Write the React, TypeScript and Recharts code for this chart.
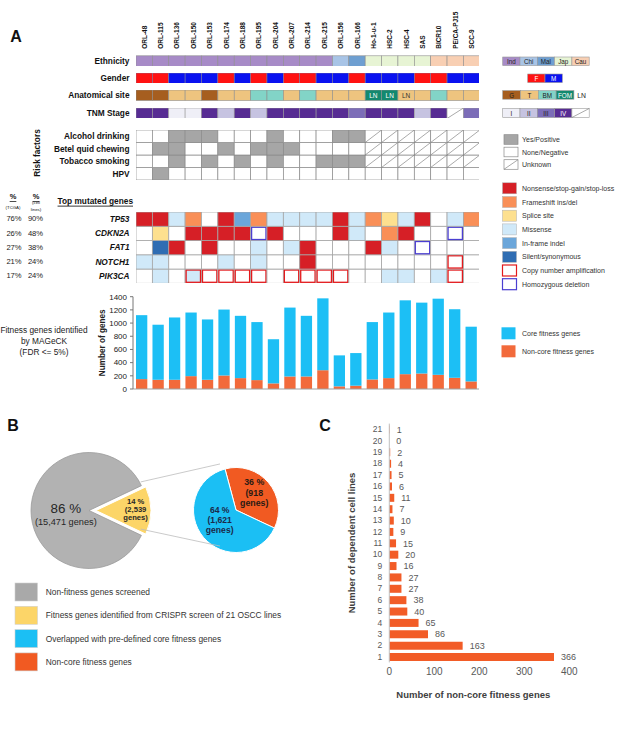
import React from 'react';
import { BarChart, Bar, XAxis, YAxis, PieChart, Pie, Cell, LabelList } from 'recharts';

const FONT = 'Arial, "Liberation Sans", Helvetica, sans-serif';

// ---- panel A data ----
const cellLines = ['ORL-48', 'ORL-115', 'ORL-136', 'ORL-150', 'ORL-153', 'ORL-174', 'ORL-188', 'ORL-195', 'ORL-204', 'ORL-207', 'ORL-214', 'ORL-215', 'ORL-156', 'ORL-166', 'Ho-1-u-1', 'HSC-2', 'HSC-4', 'SAS', 'BICR10', 'PE/CA-PJ15', 'SCC-9'];

const ethnicity = ['Ind', 'Ind', 'Ind', 'Ind', 'Ind', 'Ind', 'Ind', 'Ind', 'Ind', 'Ind', 'Ind', 'Ind', 'Chi', 'Mal', 'Jap', 'Jap', 'Jap', 'Jap', 'Cau', 'Cau', 'Cau'];
const gender = ['F', 'F', 'M', 'M', 'M', 'F', 'M', 'F', 'M', 'F', 'F', 'M', 'M', 'F', 'M', 'M', 'M', 'F', 'F', 'M', 'M'];
const site = ['G', 'G', 'T', 'T', 'G', 'T', 'T', 'BM', 'BM', 'T', 'BM', 'T', 'T', 'T', 'FOM/LN', 'FOM/LN', 'T/LN', 'T', 'BM', 'T', 'T'];
const tnmStage = ['IV', 'IV', 'I', 'I', 'IV', 'II', 'IV', 'II', 'IV', 'IV', 'IV', 'IV', 'IV', 'III', 'IV', 'IV', 'IV', 'II', 'IV', 'NA', 'III'];

const alcohol = ['N', 'N', 'Y', 'Y', 'Y', 'N', 'N', 'N', 'Y', 'N', 'N', 'N', 'Y', 'Y', 'U', 'U', 'U', 'U', 'U', 'U', 'U'];
const betel = ['N', 'Y', 'Y', 'N', 'N', 'Y', 'N', 'Y', 'Y', 'Y', 'N', 'N', 'N', 'N', 'U', 'U', 'U', 'U', 'U', 'U', 'U'];
const tobacco = ['N', 'N', 'Y', 'N', 'Y', 'N', 'Y', 'N', 'Y', 'N', 'N', 'Y', 'Y', 'Y', 'U', 'U', 'U', 'U', 'U', 'U', 'U'];
const hpv = ['N', 'Y', 'N', 'N', 'N', 'N', 'N', 'N', 'N', 'N', 'N', 'N', 'N', 'N', 'N', 'N', 'N', 'N', 'N', 'N', 'N'];

// N nonsense, F frameshift, S splice, M missense, I in-frame, X silent, A amplification, D deletion
const tp53 = ['N', 'N', 'M', 'F', '-', 'N', 'I', 'F', 'M', 'M', 'M', 'M', 'N', 'M', 'F', 'S', 'M', 'N', '-', 'M', 'F'];
const cdkn2a = ['-', 'S', '-', 'N', 'N', 'N', 'N', 'D', 'N', '-', '-', '-', 'N', 'M', '-', 'F', 'N', '-', '-', 'D', '-'];
const fat1 = ['-', 'X', 'N', '-', 'N', '-', '-', 'M', '-', 'M', 'N', '-', '-', '-', 'N', 'M', '-', 'D', '-', '-', '-'];
const notch1 = ['M', 'M', '-', '-', '-', 'M', '-', 'M', '-', '-', 'N', '-', '-', '-', '-', '-', '-', '-', '-', 'A', '-'];
const pik3ca = ['-', 'M', '-', 'M+A', 'A', 'A', 'A', 'A', '-', 'A', 'A', 'A', 'A', '-', '-', 'M', 'M', '-', 'M', 'A', '-'];

const geneNames = ['TP53', 'CDKN2A', 'FAT1', 'NOTCH1', 'PIK3CA'];
const tcgaPct = [76, 26, 27, 21, 17];
const cellLinePct = [90, 48, 38, 24, 24];

const coreFitness = [970, 835, 945, 965, 915, 1000, 945, 880, 670, 1045, 920, 1090, 470, 495, 870, 995, 1120, 1075, 1155, 1040, 830];
const nonCoreFitness = [150, 140, 140, 195, 140, 205, 165, 135, 85, 190, 190, 285, 40, 50, 145, 165, 225, 235, 215, 170, 115];
const geneTicks = [0, 200, 400, 600, 800, 1000, 1200, 1400];

// ---- panel B data ----
const screenGenes = [
  { name: 'Non-fitness genes screened', value: 15471 },
  { name: 'Fitness genes', value: 2539 },
];
const fitnessSplit = [
  { name: 'Non-core fitness genes', value: 918 },
  { name: 'Core fitness genes', value: 1621 },
];

// ---- panel C data ----
const dependentLines = ['1', '2', '3', '4', '5', '6', '7', '8', '9', '10', '11', '12', '13', '14', '15', '16', '17', '18', '19', '20', '21'];
const nonCoreCounts = [366, 163, 86, 65, 40, 38, 27, 27, 16, 20, 15, 9, 10, 7, 11, 6, 5, 4, 2, 0, 1];
const countTicks = [0, 100, 200, 300, 400];

// ---- colours ----
const ETH_COLORS: Record<string, string> = { Ind: '#A78BC7', Chi: '#A8C4E6', Mal: '#6E9FD1', Jap: '#E7F4D4', Cau: '#F8CFB3' };
const GENDER_COLORS: Record<string, string> = { F: '#FF1212', M: '#0A12F0' };
const SITE_COLORS: Record<string, string> = { G: '#A65E1F', T: '#EEC47F', BM: '#82D4C7', FOM: '#13896F' };
const TNM_COLORS: Record<string, string> = { I: '#EFEFF7', II: '#C6C3E1', III: '#7C6DB8', IV: '#572C93', NA: '#FFFFFF' };
const RISK_COLORS: Record<string, string> = { Y: '#A6A6A6', N: '#FFFFFF', U: '#FFFFFF' };
const MUT_COLORS: Record<string, string> = { N: '#D61F26', F: '#F98F57', S: '#FDE08F', M: '#D0E9F9', I: '#6BA6DA', X: '#2F6DB3' };
const AMP = '#E3191C';
const DEL = '#4B3FD1';
const BLUE = '#1CBFF5';
const ORANGE = '#F26A3B';

// ---- layout ----
const GRID_LEFT = 135.7;
const GRID_W = 343.8;
const COL_W = GRID_W / cellLines.length;
const ROW_H = 10.5;
const HEADER_H = 55.8;
const ETH_TOP = 55.8;
const GENDER_TOP = 72.5;
const SITE_TOP = 90;
const TNM_TOP = 107.5;
const RISK_TOP = 130;
const RISK_H = 50;
const MUT_TOP = 211.7;
const MUT_H = 71.3;
const PIE_TOP = 430;
const BIG_CX = 84;
const BIG_CY = 75.5;
const BIG_R = 58;
const EXPLODE = 7;
const SLICE_R = 55;
const SMALL_CX = 231;
const SMALL_CY = 75;
const SMALL_R = 42.5;
const SMALL_START = 105;

const polar = (cx: number, cy: number, r: number, a: number) => [cx + r * Math.cos((a * Math.PI) / 180), cy - r * Math.sin((a * Math.PI) / 180)];

type Draw = (v: string, x: number, y: number, h: number) => React.ReactElement;
type RowSpec = { key: string; label: string; values: string[]; draw: Draw };

const slash = (x: number, y: number, h: number) => (
  <line x1={x} y1={y + h} x2={x + COL_W} y2={y} stroke="#707070" strokeWidth={0.6} />
);

const plainCell = (colors: Record<string, string>, stroke = '#8E8E8E'): Draw => (v, x, y, h) => (
  <rect x={x} y={y} width={COL_W} height={h} fill={colors[v]} stroke={stroke} strokeWidth={0.6} />
);

const siteCell: Draw = (v, x, y, h) => {
  const [s, ln] = v.split('/');
  return (
    <g>
      <rect x={x} y={y} width={COL_W} height={h} fill={SITE_COLORS[s]} stroke="#8E8E8E" strokeWidth={0.6} />
      {ln && (
        <text x={x + COL_W / 2} y={y + h / 2} textAnchor="middle" dominantBaseline="central" fontSize={6.5} fill={s === 'FOM' ? '#fff' : '#333'}>
          {ln}
        </text>
      )}
    </g>
  );
};

const tnmCell: Draw = (v, x, y, h) => (
  <g>
    <rect x={x} y={y} width={COL_W} height={h} fill={TNM_COLORS[v]} stroke="#9A9A9A" strokeWidth={0.6} />
    {v === 'NA' && slash(x, y, h)}
  </g>
);

const riskCell: Draw = (v, x, y, h) => (
  <g>
    <rect x={x} y={y} width={COL_W} height={h} fill={RISK_COLORS[v]} stroke="#8A8A8A" strokeWidth={0.7} />
    {v === 'U' && slash(x, y, h)}
  </g>
);

const mutCell: Draw = (v, x, y, h) => {
  const parts = v.split('+');
  const fillCode = parts.find((p) => MUT_COLORS[p]);
  const outline = parts.includes('A') ? AMP : parts.includes('D') ? DEL : null;
  return (
    <g>
      <rect x={x} y={y} width={COL_W} height={h} fill={fillCode ? MUT_COLORS[fillCode] : '#fff'} stroke="#A6A6A6" strokeWidth={0.8} />
      {outline && <rect x={x + 1} y={y + 1} width={COL_W - 2} height={h - 2} fill="none" stroke={outline} strokeWidth={1.3} />}
    </g>
  );
};

const topRows: { spec: RowSpec; top: number }[] = [
  { spec: { key: 'eth', label: 'Ethnicity', values: ethnicity, draw: plainCell(ETH_COLORS) }, top: ETH_TOP },
  { spec: { key: 'gender', label: 'Gender', values: gender, draw: plainCell(GENDER_COLORS, '#7A7A9A') }, top: GENDER_TOP },
  { spec: { key: 'site', label: 'Anatomical site', values: site, draw: siteCell }, top: SITE_TOP },
  { spec: { key: 'tnm', label: 'TNM Stage', values: tnmStage, draw: tnmCell }, top: TNM_TOP },
];

const riskRows: RowSpec[] = [
  { key: 'alcohol', label: 'Alcohol drinking', values: alcohol, draw: riskCell },
  { key: 'betel', label: 'Betel quid chewing', values: betel, draw: riskCell },
  { key: 'tobacco', label: 'Tobacco smoking', values: tobacco, draw: riskCell },
  { key: 'hpv', label: 'HPV', values: hpv, draw: riskCell },
];

const mutRows: RowSpec[] = [tp53, cdkn2a, fat1, notch1, pik3ca].map((values, i) => ({
  key: 'g' + i,
  label: geneNames[i],
  values,
  draw: mutCell,
}));

const NameTick = (props: any) => {
  const { x, y, payload } = props;
  return (
    <text transform={`translate(${x},${y}) rotate(-90)`} textAnchor="start" dominantBaseline="central" fontSize={6.5} fontWeight="bold" fill="#111">
      {payload.value}
    </text>
  );
};

function GridChart({ rows, top, height, header = 0 }: { rows: RowSpec[]; top: number; height: number; header?: number }) {
  const data = cellLines.map((name, i) => {
    const d: Record<string, any> = { name };
    rows.forEach((r) => {
      d[r.key] = 1;
      d[r.key + 'Cat'] = r.values[i];
    });
    return d;
  });
  return (
    <div style={{ position: 'absolute', left: GRID_LEFT, top: top - header }}>
      <BarChart width={GRID_W} height={height + header} data={data} margin={{ top: 0, right: 0, bottom: 0, left: 0 }} barCategoryGap={0} barGap={0}>
        <XAxis
          dataKey="name"
          orientation="top"
          hide={!header}
          height={header}
          interval={0}
          axisLine={false}
          tickLine={false}
          tickSize={0}
          tickMargin={7}
          tick={(p: any) => <NameTick {...p} />}
        />
        <YAxis hide domain={[0, rows.length]} />
        {rows
          .slice()
          .reverse()
          .map((r) => (
            <Bar
              key={r.key}
              dataKey={r.key}
              stackId="grid"
              isAnimationActive={false}
              shape={(p: any) => r.draw(p.payload[r.key + 'Cat'], p.x, p.y, p.height)}
            />
          ))}
      </BarChart>
    </div>
  );
}

const T = ({ x, y, children, size = 8.3, bold = false, italic = false, anchor = 'start', fill = '#111', underline = false }: any) => (
  <text
    x={x}
    y={y}
    fontSize={size}
    fontWeight={bold ? 'bold' : 'normal'}
    fontStyle={italic ? 'italic' : 'normal'}
    textAnchor={anchor}
    dominantBaseline="central"
    fill={fill}
    style={underline ? { textDecoration: 'underline' } : undefined}
  >
    {children}
  </text>
);

const LegendBoxes = ({ x, y, w, h, items }: { x: number; y: number; w: number; h: number; items: { label: string; fill: string; text: string; slash?: boolean }[] }) => (
  <g>
    {items.map((it, i) => (
      <g key={i}>
        <rect x={x + i * w} y={y} width={w} height={h} fill={it.fill} stroke="#9A9A9A" strokeWidth={0.6} />
        {it.slash && <line x1={x + i * w} y1={y + h} x2={x + (i + 1) * w} y2={y} stroke="#707070" strokeWidth={0.6} />}
        <T x={x + i * w + w / 2} y={y + h / 2 + 0.3} size={6.3} anchor="middle" fill={it.text}>
          {it.label}
        </T>
      </g>
    ))}
  </g>
);

const mutLegend = [
  { code: 'N', label: 'Nonsense/stop-gain/stop-loss' },
  { code: 'F', label: 'Frameshift ins/del' },
  { code: 'S', label: 'Splice site' },
  { code: 'M', label: 'Missense' },
  { code: 'I', label: 'In-frame indel' },
  { code: 'X', label: 'Silent/synonymous' },
  { code: 'A', label: 'Copy number amplification' },
  { code: 'D', label: 'Homozygous deletion' },
];

const riskLegend = [
  { code: 'Y', label: 'Yes/Positive' },
  { code: 'N', label: 'None/Negative' },
  { code: 'U', label: 'Unknown' },
];

const pieLegend = [
  { fill: '#A9A9A9', label: 'Non-fitness genes screened' },
  { fill: '#FCD568', label: 'Fitness genes identified from CRISPR screen of 21 OSCC lines' },
  { fill: '#1BBFF4', label: 'Overlapped with pre-defined core fitness genes' },
  { fill: '#F15A22', label: 'Non-core fitness genes' },
];

const fitnessData = cellLines.map((name, i) => ({ name, core: coreFitness[i], noncore: nonCoreFitness[i] }));
const depData = dependentLines.map((lines, i) => ({ lines, genes: nonCoreCounts[i] }));

const fitShare = screenGenes[1].value / (screenGenes[0].value + screenGenes[1].value);
const bigStart = fitShare * 180;

const bigLabel = (p: any) => {
  if (p.index !== 0) return null;
  const [x, y] = polar(p.cx, p.cy, p.outerRadius * 0.4, p.midAngle);
  return (
    <g>
      <text x={x} y={y - 2.5} textAnchor="middle" dominantBaseline="central" fontSize={13.4} fill="#262626">
        {`${Math.round(p.percent * 100)} %`}
      </text>
      <text x={x} y={y + 11} textAnchor="middle" dominantBaseline="central" fontSize={9.2} fill="#262626">
        {`(${p.value.toLocaleString('en-US')} genes)`}
      </text>
    </g>
  );
};

const sliceLabel = (p: any) => {
  if (p.index !== 1) return null;
  const [x, y] = polar(p.cx, p.cy, p.outerRadius * 0.72, p.midAngle);
  return (
    <g fontSize={7.6} fontWeight="bold" fill="#262626">
      <text x={x} y={y - 8.8} textAnchor="middle" dominantBaseline="central">{`${Math.round(p.percent * 100)} %`}</text>
      <text x={x} y={y - 1.2} textAnchor="middle" dominantBaseline="central">{`(${p.value.toLocaleString('en-US')}`}</text>
      <text x={x} y={y + 6.8} textAnchor="middle" dominantBaseline="central">genes)</text>
    </g>
  );
};

const smallLabel = (p: any) => {
  const [x, y] = polar(p.cx, p.cy, p.outerRadius * (p.index === 0 ? 0.56 : 0.5), p.midAngle);
  const off = p.index === 0 ? [-13, -2, 8.3] : [-13.5, -3.5, 6.5];
  const fill = p.index === 0 ? '#2A1A14' : '#1B2A4A';
  return (
    <g fontSize={p.index === 0 ? 8.8 : 8.6} fontWeight="bold" fill={fill}>
      <text x={x} y={y + off[0]} textAnchor="middle" dominantBaseline="central">{`${Math.round(p.percent * 100)} %`}</text>
      <text x={x} y={y + off[1]} textAnchor="middle" dominantBaseline="central">{`(${p.value.toLocaleString('en-US')}`}</text>
      <text x={x} y={y + off[2]} textAnchor="middle" dominantBaseline="central">genes)</text>
    </g>
  );
};

export default function App() {
  const riskRowH = RISK_H / riskRows.length;
  const mutRowH = MUT_H / mutRows.length;
  const apexX = BIG_CX + EXPLODE;
  const bigCyPage = PIE_TOP + BIG_CY;
  const c1 = polar(apexX, bigCyPage, SLICE_R, bigStart);
  const c2 = polar(apexX, bigCyPage, SLICE_R, -bigStart);
  const s1 = polar(SMALL_CX, PIE_TOP + SMALL_CY, SMALL_R, SMALL_START);
  const s2 = polar(SMALL_CX, PIE_TOP + SMALL_CY, SMALL_R, -SMALL_START);

  return (
    <div style={{ position: 'relative', width: 617, height: 733, background: '#fff', fontFamily: FONT, overflow: 'hidden' }}>
      <style>{'body{margin:0}'}</style>

      {/* annotation rows */}
      {topRows.map(({ spec, top }, i) => (
        <GridChart key={spec.key} rows={[spec]} top={top} height={ROW_H} header={i === 0 ? HEADER_H : 0} />
      ))}
      <GridChart rows={riskRows} top={RISK_TOP} height={RISK_H} />
      <GridChart rows={mutRows} top={MUT_TOP} height={MUT_H} />

      {/* fitness genes per line */}
      <div style={{ position: 'absolute', left: 90, top: 290 }}>
        <BarChart width={389} height={105} data={fitnessData} margin={{ top: 6.7, right: 0, bottom: 0, left: 0 }}>
          <XAxis dataKey="name" tick={false} tickLine={false} height={6} axisLine={{ stroke: '#A0A0A0' }} />
          <YAxis
            width={43}
            domain={[0, 1400]}
            ticks={geneTicks}
            interval={0}
            tick={{ fontSize: 8, fill: '#222' }}
            tickSize={3}
            tickMargin={3}
            axisLine={{ stroke: '#777' }}
            tickLine={{ stroke: '#777' }}
            label={{ value: 'Number of genes', angle: -90, position: 'insideLeft', offset: 12, style: { textAnchor: 'middle', fontSize: 8.2, fontWeight: 'bold', fill: '#222' } }}
          />
          <Bar dataKey="noncore" stackId="f" fill={ORANGE} barSize={11.3} isAnimationActive={false} />
          <Bar dataKey="core" stackId="f" fill={BLUE} barSize={11.3} isAnimationActive={false} />
        </BarChart>
      </div>

      {/* panel B pies */}
      <div style={{ position: 'absolute', left: 0, top: PIE_TOP }}>
        <PieChart width={300} height={160}>
          <Pie data={screenGenes} dataKey="value" cx={BIG_CX} cy={BIG_CY} outerRadius={BIG_R} startAngle={bigStart} endAngle={bigStart + 360} isAnimationActive={false} labelLine={false} label={bigLabel}>
            <Cell fill="#B2B2B2" stroke="#9B9B9B" strokeWidth={0.8} />
            <Cell fill="none" stroke="none" />
          </Pie>
          <Pie data={screenGenes} dataKey="value" cx={BIG_CX + EXPLODE} cy={BIG_CY} outerRadius={SLICE_R} startAngle={bigStart} endAngle={bigStart + 360} isAnimationActive={false} labelLine={false} label={sliceLabel}>
            <Cell fill="none" stroke="none" />
            <Cell fill="#FCD568" stroke="#FFFFFF" strokeWidth={1} />
          </Pie>
          <Pie data={fitnessSplit} dataKey="value" cx={SMALL_CX} cy={SMALL_CY} outerRadius={SMALL_R} startAngle={SMALL_START} endAngle={SMALL_START - 360} isAnimationActive={false} labelLine={false} label={smallLabel}>
            <Cell fill="#F15A22" stroke="#FFFFFF" strokeWidth={1} />
            <Cell fill="#1BBFF4" stroke="#FFFFFF" strokeWidth={1} />
          </Pie>
        </PieChart>
      </div>

      {/* panel C */}
      <div style={{ position: 'absolute', left: 340, top: 410 }}>
        <BarChart layout="vertical" width={277} height={292.4} data={depData} margin={{ top: 13.6, right: 47.7, bottom: 0, left: 0 }}>
          <XAxis
            type="number"
            domain={[0, 400]}
            ticks={countTicks}
            interval={0}
            axisLine={false}
            tickLine={false}
            tickSize={0}
            tickMargin={6}
            height={40}
            tick={{ fontSize: 10, fill: '#595959' }}
            label={{ value: 'Number of non-core fitness genes', position: 'insideBottom', offset: 4, dx: -6, style: { fontSize: 9.5, fontWeight: 'bold', fill: '#404040' } }}
          />
          <YAxis
            type="category"
            dataKey="lines"
            reversed
            width={49.3}
            interval={0}
            axisLine={{ stroke: '#BFBFBF' }}
            tickLine={false}
            tickSize={0}
            tickMargin={7}
            tick={{ fontSize: 8.5, fill: '#595959' }}
            label={{ value: 'Number of dependent cell lines', angle: -90, position: 'insideLeft', offset: 12, style: { textAnchor: 'middle', fontSize: 9.5, fontWeight: 'bold', fill: '#404040' } }}
          />
          <Bar dataKey="genes" fill="#F25C27" barSize={8} minPointSize={0.01} isAnimationActive={false}>
            <LabelList dataKey="genes" position="right" offset={7} fill="#595959" fontSize={9} formatter={(v: any) => `${v}`} />
          </Bar>
        </BarChart>
      </div>

      {/* text, legends and connectors */}
      <svg width={617} height={733} style={{ position: 'absolute', left: 0, top: 0, pointerEvents: 'none' }} fontFamily={FONT}>
        <T x={16} y={36} size={16} bold anchor="middle">A</T>
        <T x={13} y={425.5} size={16} bold anchor="middle">B</T>
        <T x={325} y={425.5} size={16} bold anchor="middle">C</T>

        {topRows.map(({ spec, top }) => (
          <T key={spec.key} x={129.5} y={top + ROW_H / 2} bold anchor="end">{spec.label}</T>
        ))}
        {riskRows.map((r, i) => (
          <T key={r.key} x={129.5} y={RISK_TOP + riskRowH * (i + 0.5)} bold anchor="end">{r.label}</T>
        ))}
        <text transform="translate(37,153) rotate(-90)" textAnchor="middle" dominantBaseline="central" fontSize={8.3} fontWeight="bold" fill="#111">
          Risk factors
        </text>

        <T x={133} y={200.7} bold anchor="end" underline>Top mutated genes</T>
        <T x={13} y={196.7} size={7.5} bold anchor="middle" underline>%</T>
        <T x={13} y={207.3} size={4.3} anchor="middle">(TCGA)</T>
        <T x={36} y={196.7} size={7.5} bold anchor="middle" underline>%</T>
        <T x={36} y={202.9} size={4.3} anchor="middle">(cell</T>
        <T x={36} y={209.3} size={4.3} anchor="middle">lines)</T>
        {mutRows.map((r, i) => (
          <g key={r.key}>
            <T x={129.5} y={MUT_TOP + mutRowH * (i + 0.5)} bold italic anchor="end">{r.label}</T>
            <T x={14} y={MUT_TOP + mutRowH * (i + 0.5)} size={7.6} anchor="middle" fill="#222">{`${tcgaPct[i]}%`}</T>
            <T x={35.5} y={MUT_TOP + mutRowH * (i + 0.5)} size={7.6} anchor="middle" fill="#222">{`${cellLinePct[i]}%`}</T>
          </g>
        ))}

        <T x={44} y={330} anchor="middle" fill="#222">Fitness genes identified</T>
        <T x={44} y={341} anchor="middle" fill="#222">by MAGeCK</T>
        <T x={44} y={352} anchor="middle" fill="#222">(FDR &lt;= 5%)</T>

        {/* legends for annotation rows */}
        <LegendBoxes x={502.7} y={57} w={17.3} h={8.6} items={['Ind', 'Chi', 'Mal', 'Jap', 'Cau'].map((k) => ({ label: k, fill: ETH_COLORS[k], text: '#222' }))} />
        <LegendBoxes x={527.7} y={74} w={17.3} h={8.6} items={['F', 'M'].map((k) => ({ label: k, fill: GENDER_COLORS[k], text: '#fff' }))} />
        <LegendBoxes x={502.7} y={90.6} w={17.8} h={8.6} items={['G', 'T', 'BM', 'FOM'].map((k) => ({ label: k, fill: SITE_COLORS[k], text: k === 'FOM' ? '#fff' : '#222' }))} />
        <T x={581.5} y={95} size={6.8} anchor="middle" fill="#222">LN</T>
        <LegendBoxes
          x={502.7}
          y={108.5}
          w={17.3}
          h={9}
          items={['I', 'II', 'III', 'IV', 'NA'].map((k) => ({ label: k === 'NA' ? '' : k, fill: TNM_COLORS[k], text: k === 'IV' ? '#fff' : '#222', slash: k === 'NA' }))}
        />

        {riskLegend.map((it, i) => {
          const cy = 139.5 + i * 12.5;
          return (
            <g key={it.code}>
              <rect x={504} y={cy - 4.8} width={14} height={9.6} fill={RISK_COLORS[it.code]} stroke="#8A8A8A" strokeWidth={0.7} />
              {it.code === 'U' && <line x1={504} y1={cy + 4.8} x2={518} y2={cy - 4.8} stroke="#707070" strokeWidth={0.6} />}
              <T x={522} y={cy} size={7} fill="#333">{it.label}</T>
            </g>
          );
        })}

        {mutLegend.map((it, i) => {
          const cy = 188.3 + i * 13.7;
          const outline = it.code === 'A' ? AMP : it.code === 'D' ? DEL : null;
          return (
            <g key={it.code}>
              <rect
                x={502.5}
                y={cy - 5.5}
                width={14}
                height={11}
                fill={MUT_COLORS[it.code] || '#fff'}
                stroke={outline || '#B0B0B0'}
                strokeWidth={outline ? 1.2 : 0.5}
              />
              <T x={522} y={cy} size={7} fill="#333">{it.label}</T>
            </g>
          );
        })}

        <rect x={501.5} y={327.3} width={14} height={12} fill={BLUE} />
        <T x={522} y={333.3} size={7} fill="#333">Core fitness genes</T>
        <rect x={501.5} y={345.3} width={14} height={12} fill={ORANGE} />
        <T x={522} y={351.3} size={7} fill="#333">Non-core fitness genes</T>

        {/* panel B connectors and legend */}
        <line x1={c1[0]} y1={c1[1]} x2={s1[0]} y2={s1[1]} stroke="#BDBDBD" strokeWidth={0.8} />
        <line x1={c2[0]} y1={c2[1]} x2={s2[0]} y2={s2[1]} stroke="#BDBDBD" strokeWidth={0.8} />
        {pieLegend.map((it, i) => {
          const cy = 592 + i * 23.3;
          return (
            <g key={i}>
              <rect x={15} y={cy - 9} width={22.5} height={18} fill={it.fill} stroke="#D0D0D0" strokeWidth={0.6} />
              <T x={45.7} y={cy} size={8.4} fill="#333">{it.label}</T>
            </g>
          );
        })}
      </svg>
    </div>
  );
}
